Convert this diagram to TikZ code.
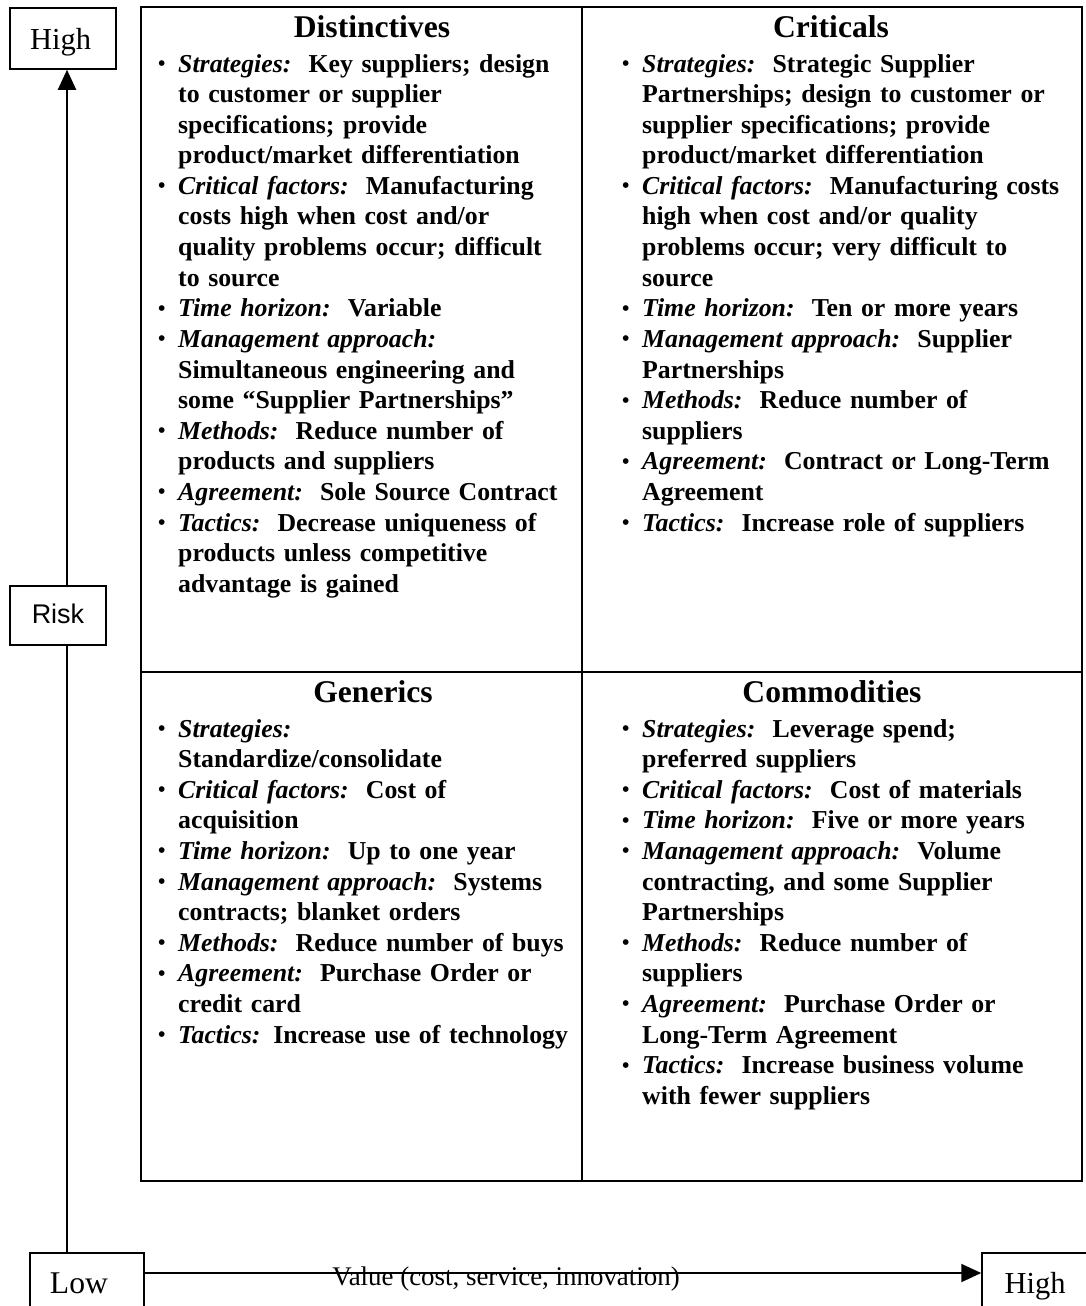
\documentclass[tikz,border=0pt]{standalone}
\usepackage{fontspec}
\setmainfont{Liberation Serif}
\newfontfamily\arialfont{Liberation Sans}
\usetikzlibrary{arrows.meta}
\hyphenpenalty=10000
\newcommand\itmbullet{\makebox[21pt][l]{\hspace{1pt}\raisebox{1.5pt}{\fontsize{21}{21}\selectfont\textbullet}}}
\newcommand\itm[2]{\hangindent=21pt\hangafter=1\noindent\itmbullet\textit{#1}#2\par}
\begin{document}
\begin{tikzpicture}[x=1pt,y=-1pt,
  quad/.style={anchor=base west, inner sep=0pt, text width=480pt, align=left,
    font=\fontsize{25.8}{30.6}\selectfont\bfseries},
  head/.style={anchor=base, inner sep=0pt, font=\fontsize{31.6}{36}\selectfont\bfseries},
  axbox/.style={draw, line width=1.5pt, inner sep=0pt, text depth=0pt, font=\fontsize{30.5}{36}\selectfont},
  axis/.style={line width=2pt},
  tip/.style={-{Triangle[length=20pt,width=18pt]}},
  grid/.style={line width=1.6pt}]
\useasboundingbox (0,0) rectangle (1086,1306);
\clip (0,0) rectangle (1086,1306);

% grid
\draw[grid] (141,7) rectangle (1082,1181);
\draw[grid] (582,7) -- (582,1181);
\draw[grid] (141,672) -- (1082,672);

% axis boxes
\node[axbox, minimum width=106pt, minimum height=61pt, text height=21pt, text width=80pt, align=left] (hiy) at (63,38.5) {\hspace*{7pt}High};
\node[axbox, font=\arialfont\fontsize{27}{30}\selectfont, minimum width=96pt, minimum height=59pt, text height=15pt] (risk) at (58,615.5) {Risk};
\node[axbox, font=\fontsize{31.6}{36}\selectfont, minimum width=114pt, minimum height=61pt, text height=19pt, text width=100pt, align=left] (low) at (87,1283.5) {\hspace*{13pt}Low};
\node[axbox, minimum width=106pt, minimum height=61pt, text height=19pt] (hix) at (1035,1283.5) {High};

\coordinate (axx) at (67,0);
\coordinate (axy) at (0,1273);
\draw[axis] (low.north -| axx) -- (risk.south -| axx);
\draw[axis, tip] (risk.north -| axx) -- (hiy.south -| axx);
\draw[axis, tip] (low.east |- axy) -- (hix.west |- axy);
\node[anchor=base, inner sep=0pt, font=\fontsize{26.9}{30}\selectfont] (val) at (506,1285) {Value (cost, service, innovation)};

% headings
\node[head] (hd1) at (372,38) {Distinctives};
\node[head] (hd2) at (831,38) {Criticals};
\node[head] (hd3) at (373,702) {Generics};
\node[head] (hd4) at (832,702) {Commodities};

% quadrant texts
\node[quad] (q1) at (157,72) {%
\itm{Strategies:}{\ \ Key suppliers; design\newline to customer or supplier\newline specifications; provide\newline product/market differentiation}
\itm{Critical factors:}{\ \ Manufacturing\newline costs high when cost and/or\newline quality problems occur; difficult\newline to source}
\itm{Time horizon:}{\ \ Variable}
\itm{Management approach:}{\newline Simultaneous engineering and\newline some “Supplier Partnerships”}
\itm{Methods:}{\ \ Reduce number of\newline products and suppliers}
\itm{Agreement:}{\ \ Sole Source Contract}
\itm{Tactics:}{\ \ Decrease uniqueness of\newline products unless competitive\newline advantage is gained}};

\node[quad] (q2) at (621,72) {%
\itm{Strategies:}{\ \ Strategic Supplier\newline Partnerships; design to customer or\newline supplier specifications; provide\newline product/market differentiation}
\itm{Critical factors:}{\ \ Manufacturing costs\newline high when cost and/or quality\newline problems occur; very difficult to\newline source}
\itm{Time horizon:}{\ \ Ten or more years}
\itm{Management approach:}{\ \ Supplier\newline Partnerships}
\itm{Methods:}{\ \ Reduce number of\newline suppliers}
\itm{Agreement:}{\ \ Contract or Long-Term\newline Agreement}
\itm{Tactics:}{\ \ Increase role of suppliers}};

\node[quad] (q3) at (157,737) {%
\itm{Strategies:}{\newline Standardize/consolidate}
\itm{Critical factors:}{\ \ Cost of\newline acquisition}
\itm{Time horizon:}{\ \ Up to one year}
\itm{Management approach:}{\ \ Systems\newline contracts; blanket orders}
\itm{Methods:}{\ \ Reduce number of buys}
\itm{Agreement:}{\ \ Purchase Order or\newline credit card}
\itm{Tactics:}{ Increase use of technology}};

\node[quad] (q4) at (621,737) {%
\itm{Strategies:}{\ \ Leverage spend;\newline preferred suppliers}
\itm{Critical factors:}{\ \ Cost of materials}
\itm{Time horizon:}{\ \ Five or more years}
\itm{Management approach:}{\ \ Volume\newline contracting, and some Supplier\newline Partnerships}
\itm{Methods:}{\ \ Reduce number of\newline suppliers}
\itm{Agreement:}{\ \ Purchase Order or\newline Long-Term Agreement}
\itm{Tactics:}{\ \ Increase business volume\newline with fewer suppliers}};
\end{tikzpicture}
\end{document}
